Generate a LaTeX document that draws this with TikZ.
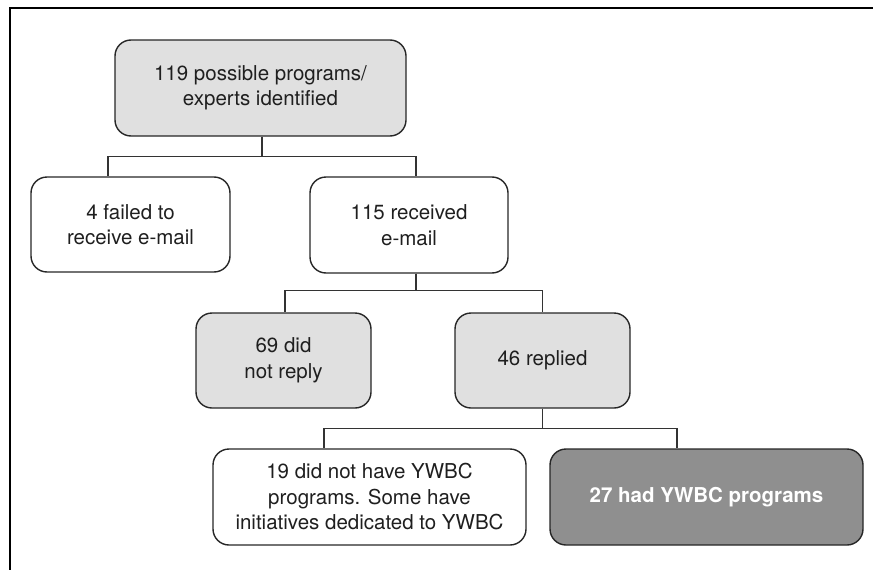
\documentclass[tikz,border=0pt]{standalone}
\usepackage{fontspec}
\setmainfont{TeX Gyre Heros}
\tikzstyle{flowbox}=[
    draw=black!85,
    line width=1.4pt,
    rounded corners=16pt,
    align=center,
    inner sep=0pt,
    text=black!88,
    font=\fontsize{20.5}{25.5}\selectfont,
]
\tikzstyle{lightbox}=[flowbox, fill=black!12]
\tikzstyle{darkbox}=[flowbox, fill=black!44, text=white,
    font=\fontsize{20.5}{25.5}\selectfont\bfseries]
\tikzstyle{link}=[draw=black!80, line width=1.3pt]

\begin{document}
\begin{tikzpicture}[x=1pt, y=-1pt]
        \useasboundingbox (0,0) rectangle (873,570);
        \draw[line width=2.2pt] (10,570) |- (873,8);
        % first level
        \node (identified) at (260.5,88) [lightbox, minimum width=291pt, minimum height=96pt] {119 possible programs/\\experts identified};
        \node (failed) at (130.5,224.5) [flowbox, minimum width=199pt, minimum height=95pt] {4 failed to\\receive e-mail};
        \node (received) at (409,225) [flowbox, minimum width=198pt, minimum height=96pt] {115 received\\e-mail};
        % second level
        \node (noreply) at (283.5,360.5) [lightbox, minimum width=175pt, minimum height=95pt] {69 did\\not reply};
        \node (replied) at (542.5,360.5) [lightbox, minimum width=175pt, minimum height=95pt] {46 replied};
        % third level
        \node (nothave) at (369.5,497) [flowbox, minimum width=313pt, minimum height=96pt] {19 did not have YWBC\\programs. Some have\\initiatives dedicated to YWBC};
        \node (had) at (706.5,497) [darkbox, minimum width=313pt, minimum height=96pt] {27 had YWBC programs};
        % connectors
        \draw[link] ([xshift=1.5pt]identified.south) -- ++(0,20) -| ([xshift=-22.5pt]failed.north);
        \draw[link] ([xshift=1.5pt]identified.south) -- ++(0,20) -| ([xshift=7pt]received.north);
        \draw[link] ([xshift=7pt]received.south) -- ++(0,17) -| ([xshift=1.5pt]noreply.north);
        \draw[link] ([xshift=7pt]received.south) -- ++(0,17) -| (replied.north);
        \draw[link] (replied.south) -- ++(0,20) -| ([xshift=-45.5pt]nothave.north);
        \draw[link] (replied.south) -- ++(0,20) -| ([xshift=-29.5pt]had.north);
    \end{tikzpicture}
\end{document}
